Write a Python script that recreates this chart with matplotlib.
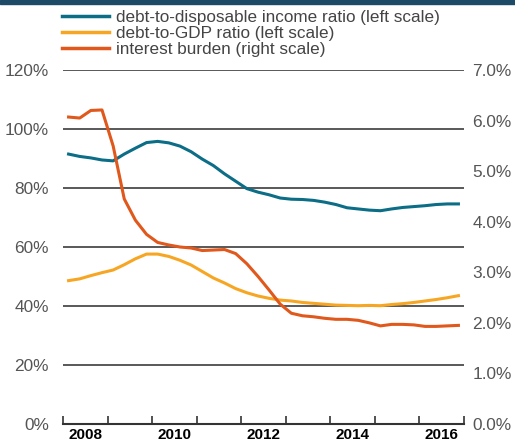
import matplotlib
matplotlib.use("Agg")
import matplotlib.pyplot as plt
import numpy as np

# quarterly data 2008Q1 .. 2016Q4
years = list(range(2008, 2017))
quarters = [1, 2, 3, 4]

debt_to_income = [
    91.5, 90.7, 90.2, 89.5, 89.2, 91.5, 93.5, 95.4, 95.8,
    95.3, 94.2, 92.3, 89.8, 87.6, 84.8, 82.3, 79.8, 78.6,
    77.7, 76.6, 76.2, 76.1, 75.8, 75.2, 74.4, 73.3, 72.9,
    72.5, 72.3, 72.9, 73.4, 73.7, 74.0, 74.4, 74.6, 74.6,
]
debt_to_gdp = [
    48.6, 49.2, 50.3, 51.3, 52.2, 54.0, 56.0, 57.6, 57.6,
    56.8, 55.5, 53.9, 51.7, 49.5, 47.8, 45.9, 44.5, 43.4,
    42.6, 42.0, 41.7, 41.2, 40.9, 40.6, 40.3, 40.2, 40.1,
    40.2, 40.1, 40.5, 40.8, 41.2, 41.7, 42.2, 42.8, 43.5,
]
interest_burden = [
    6.07, 6.05, 6.20, 6.21, 5.50, 4.45, 4.03, 3.75, 3.59,
    3.54, 3.50, 3.48, 3.43, 3.44, 3.45, 3.37, 3.17, 2.92,
    2.65, 2.37, 2.19, 2.14, 2.12, 2.09, 2.07, 2.07, 2.05,
    2.00, 1.94, 1.97, 1.97, 1.96, 1.93, 1.93, 1.94, 1.95,
]

left_ticks = [0, 20, 40, 60, 80, 100, 120]
right_ticks = [0, 1, 2, 3, 4, 5, 6, 7]
year_labels = ["2008", "2010", "2012", "2014", "2016"]

labels = [
    "debt-to-disposable income ratio (left scale)",
    "debt-to-GDP ratio (left scale)",
    "interest burden (right scale)",
]
colors = ["#0b6d86", "#f7a623", "#e0581c"]

# x position: middle of each quarter
x = [y + (q - 0.5) / 4 for y in years for q in quarters]

plt.rcParams["font.family"] = ["Liberation Sans", "DejaVu Sans"]

fig = plt.figure(figsize=(5.15, 4.43), dpi=100)
ax = fig.add_axes([63 / 515, 19 / 443, 401 / 515, 354 / 443])
ax2 = ax.twinx()

for v in left_ticks[1:]:
    ax.axhline(v, color="#3c3c3c", lw=1.2, zorder=1)

ax.plot(x, debt_to_income, color=colors[0], lw=2.2, label=labels[0], zorder=3)
ax.plot(x, debt_to_gdp, color=colors[1], lw=2.2, label=labels[1], zorder=3)
ax2.plot(x, interest_burden, color=colors[2], lw=2.2, label=labels[2], zorder=3)

ax.set_xlim(2008, 2017)
ax.set_ylim(0, 120)
ax2.set_ylim(0, 7)

ax.set_yticks(left_ticks)
ax.set_yticklabels([f"{v}%" for v in left_ticks])
ax2.set_yticks(right_ticks)
ax2.set_yticklabels([f"{v:.1f}%" for v in right_ticks])
ax.tick_params(axis="y", length=0, pad=10, labelsize=12.4, labelcolor="#555555")
ax2.tick_params(axis="y", length=0, pad=6, labelsize=12.4, labelcolor="#555555")

ax.set_xticks(list(range(2008, 2018)))
ax.set_xticklabels([])
ax.set_xticks([int(l) + 0.5 for l in year_labels], minor=True)
ax.set_xticklabels(year_labels, minor=True, fontweight="bold", fontsize=11)
ax.tick_params(axis="x", which="major", direction="in", length=6, width=1.2, color="#333333")
ax.tick_params(axis="x", which="minor", length=0, pad=3)

for a in (ax, ax2):
    for s in ("top", "left", "right", "bottom"):
        a.spines[s].set_visible(False)
ax.spines["bottom"].set_visible(True)
ax.spines["bottom"].set_linewidth(1.5)
ax.spines["bottom"].set_color("#333333")

# dark band along the top edge
fig.patches.append(plt.Rectangle((0, 1 - 4 / 443), 1, 4 / 443, transform=fig.transFigure,
                                 color="#1d4a66", zorder=0))

h1, l1 = ax.get_legend_handles_labels()
h2, l2 = ax2.get_legend_handles_labels()
leg = fig.legend(h1 + h2, l1 + l2, loc="upper left", bbox_to_anchor=(62 / 515, 1 - 10 / 443),
                 frameon=False, fontsize=12.3, handlelength=2.75, handletextpad=0.4,
                 labelspacing=0.05, borderpad=0, borderaxespad=0)
for t in leg.get_texts():
    t.set_color("#444444")
for line in leg.get_lines():
    line.set_linewidth(2.5)

fig.savefig("out.png", dpi=100)
